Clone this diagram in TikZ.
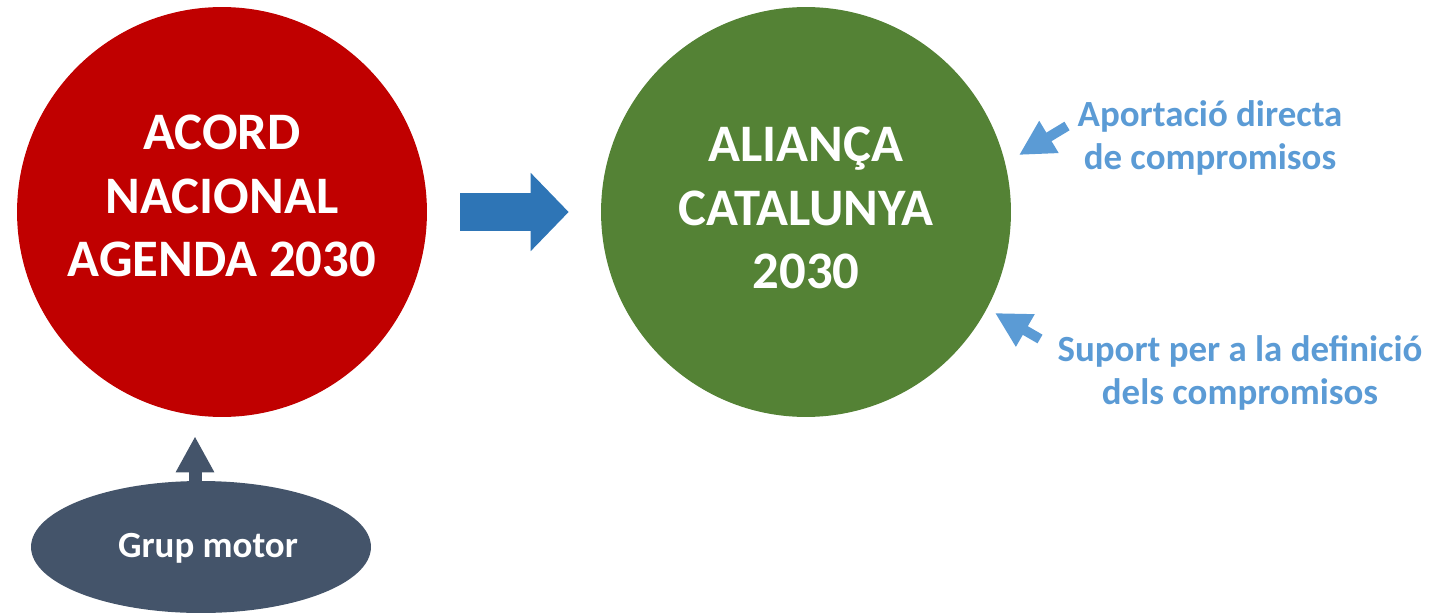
\documentclass[tikz,border=0pt]{standalone}
\usepackage{fontspec}
\setmainfont{Carlito}
\usetikzlibrary{arrows.meta,shapes.geometric,calc}
\definecolor{acordred}{HTML}{C00000}
\definecolor{aliancagreen}{HTML}{548235}
\definecolor{flowblue}{HTML}{2E75B6}
\definecolor{noteblue}{HTML}{5B9BD5}
\definecolor{motorgray}{HTML}{44546A}

\begin{document}
\begin{tikzpicture}[x=0.02cm, y=-0.02cm,
    goal/.style={circle, minimum size=8.2cm, inner sep=0pt},
    goaltext/.style={text=white, font=\fontsize{30}{36}\selectfont\bfseries, align=center},
    note/.style={text=noteblue, font=\fontsize{21}{24}\selectfont\bfseries, align=center},
    pointer/.style={noteblue, line width=0.2cm, -{Triangle[length=0.7cm, width=0.7cm]}},
    ]
    \useasboundingbox (0,0) rectangle (1432,612);
    % the two circles
    \node[goal, fill=acordred] (acord) at (222,212) {};
    \node[goaltext] (acordtext) at (222,196) {ACORD\\NACIONAL\\AGENDA 2030};
    \node[goal, fill=aliancagreen] (alianca) at (806,212) {};
    \node[goaltext] (aliancatext) at (806,208) {ALIANÇA\\CATALUNYA\\2030};
    \draw[flowblue, line width=0.76cm, -{Triangle[length=0.76cm, width=1.52cm]}]
        ($(acord.east)+(33,0)$) -- ($(alianca.west)+(-32,0)$);
    % grup motor
    \node[ellipse, fill=motorgray, minimum width=6.8cm, minimum height=2.64cm] (motor) at (201,547) {};
    \node[text=white, font=\fontsize{21}{25}\selectfont\bfseries] (motortext) at (208,548) {Grup motor};
    \draw[motorgray, line width=0.26cm, -{Triangle[length=0.72cm, width=0.72cm]}]
        ($(motor.north)+(-6,2)$) -- ($(acord.south)+(-27,19)$);
    % notes on the right
    \node[note] (aportacio) at (1210,138) {Aportació directa\\de compromisos};
    \node[note] (suport) at (1240,373) {Suport per a la definició\\dels compromisos};
    \coordinate (aportaciotail) at (1067,126);
    \coordinate (aportaciotip) at (1019,155);
    \coordinate (suporttail) at (1040,339);
    \coordinate (suporttip) at (995,313);
    \draw[pointer] (aportaciotail) -- (aportaciotip);
    \draw[pointer] (suporttail) -- (suporttip);
\end{tikzpicture}
\end{document}
